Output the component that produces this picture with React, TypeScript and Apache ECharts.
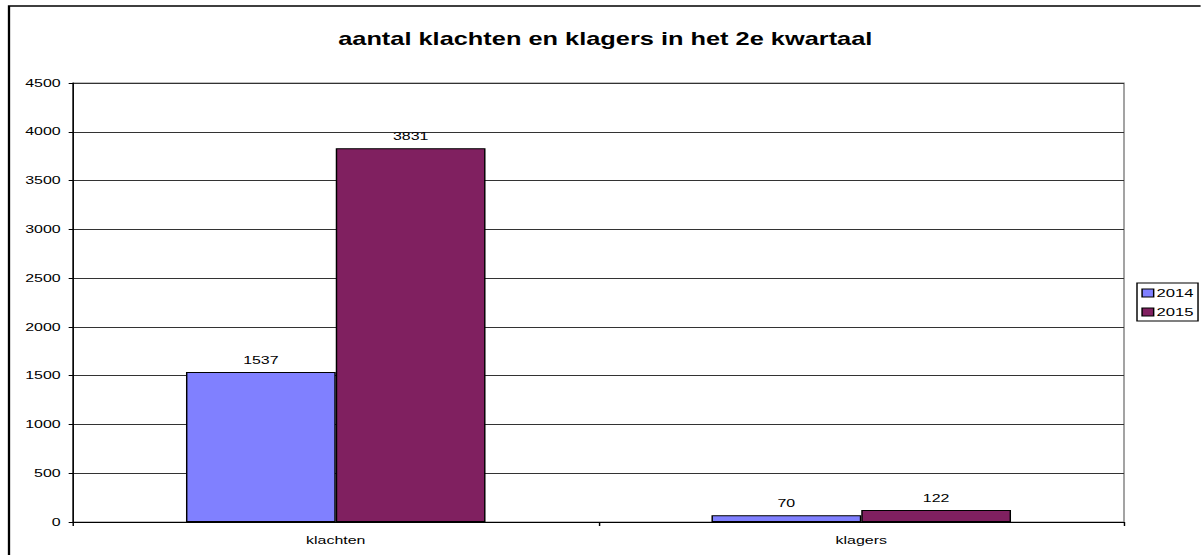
import React, { useEffect, useRef } from "react";
import * as echarts from "echarts";

const categories = ["klachten", "klagers"];
const seriesNames = ["2014", "2015"];
const values2014 = [1537, 70];
const values2015 = [3831, 122];
const colors = ["#8080FF", "#802060"];
const titleText = "aantal klachten en klagers in het 2e kwartaal";

// The reference image is horizontally stretched; render narrower and stretch with CSS.
const SX = 1.45;
const W = 1201 / SX;

export default function App() {
  const ref = useRef<HTMLDivElement>(null);
  useEffect(() => {
    document.body.style.margin = "0";
    const chart = echarts.init(ref.current!, null, { renderer: "svg" });
    const font = "Arial, 'Liberation Sans', sans-serif";
    const mk = (name: string, data: number[], color: string) => ({
      name,
      type: "bar",
      data,
      barGap: "0%",
      barCategoryGap: "43%",
      itemStyle: { color, borderColor: "#000", borderWidth: 1 },
      label: {
        show: true,
        position: "top",
        distance: 6,
        color: "#000",
        fontFamily: font,
        fontSize: 11,
      },
    });
    chart.setOption({
      animation: false,
      backgroundColor: "#fff",
      title: {
        text: titleText,
        left: 598 / SX,
        textAlign: "center",
        top: 25,
        textStyle: { fontFamily: font, fontSize: 17.5, fontWeight: "bold", color: "#000" },
      },
      graphic: [
        {
          type: "rect",
          shape: { x: 9 / SX, y: 6, width: W, height: 600 },
          style: { fill: "none", stroke: "#000", lineWidth: 1.6 },
          silent: true,
          z: 100,
        },
      ],
      legend: {
        left: 1137 / SX,
        top: 283,
        orient: "vertical",
        data: seriesNames,
        icon: "rect",
        itemWidth: 8,
        itemHeight: 8,
        itemGap: 7,
        padding: [4, 3, 3, 3],
        borderColor: "#000",
        borderWidth: 1,
        borderRadius: 0,
        itemStyle: { borderColor: "#000", borderWidth: 1 },
        textStyle: { fontFamily: font, fontSize: 11.5, color: "#000", padding: [0, 0, 0, -3] },
      },
      grid: {
        left: 73 / SX,
        top: 83,
        width: 1051 / SX,
        height: 439,
        show: true,
        borderColor: "#808080",
        borderWidth: 1,
        containLabel: false,
      },
      xAxis: {
        type: "category",
        data: categories,
        axisLine: { lineStyle: { color: "#000", width: 1 } },
        axisTick: { show: true, length: 4, lineStyle: { color: "#000" } },
        axisLabel: { color: "#000", fontFamily: font, fontSize: 11, margin: 13 },
      },
      yAxis: {
        type: "value",
        min: 0,
        max: 4500,
        interval: 500,
        axisLine: { show: true, lineStyle: { color: "#000", width: 1 } },
        axisTick: { show: true, length: 3, lineStyle: { color: "#000" } },
        axisLabel: {
          color: "#000",
          fontFamily: font,
          fontSize: 11,
          margin: 8.5,
          formatter: (v: number) => String(v),
        },
        splitLine: { show: true, lineStyle: { color: "#333", width: 1 } },
      },
      series: [mk(seriesNames[0], values2014, colors[0]), mk(seriesNames[1], values2015, colors[1])],
    });
    return () => chart.dispose();
  }, []);
  return (
    <div
      ref={ref}
      style={{
        position: "absolute",
        left: 0,
        top: 0,
        width: W,
        height: 555,
        transform: `scaleX(${SX})`,
        transformOrigin: "0 0",
      }}
    />
  );
}
